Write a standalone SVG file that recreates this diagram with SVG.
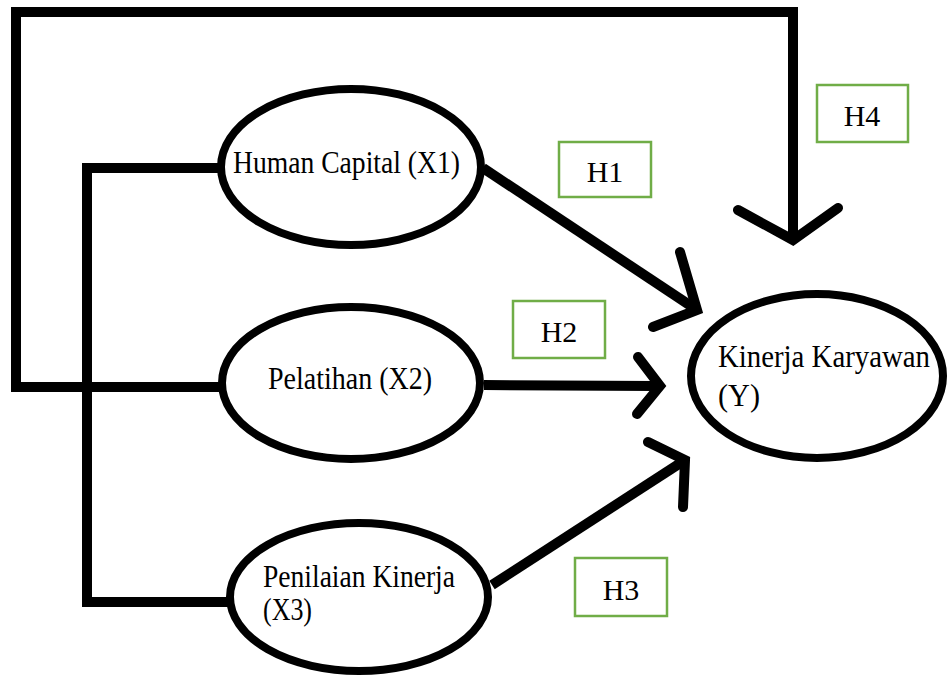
<svg xmlns="http://www.w3.org/2000/svg" width="948" height="680" viewBox="0 0 948 680">
<style>
.node ellipse{fill:#fff;stroke:#000;stroke-width:8}
.lbl{font-family:"Liberation Serif","Times New Roman",serif;font-size:31px;fill:#000}
.conn{fill:none;stroke:#000;stroke-width:10;stroke-linecap:butt;stroke-linejoin:miter}
.head{fill:none;stroke:#000;stroke-width:10;stroke-linecap:round;stroke-linejoin:miter}
.hbox rect{fill:#fff;stroke:#70AD47;stroke-width:2.5}
.hbox text{font-family:"Liberation Serif","Times New Roman",serif;font-size:30px;fill:#000;text-anchor:middle}
</style>
<rect width="948" height="680" fill="#fff"/>
<g id="connectors">
<path class="conn" d="M16,387 V12 H793 V238"/>
<path class="conn" d="M11,387 H220"/>
<path class="conn" d="M87,163 V607"/>
<path class="conn" d="M82,168 H220"/>
<path class="conn" d="M82,602 H228"/>
<path class="head" d="M738,210 L793,240 L838,208"/>
<path class="conn" d="M483,168 L694,308"/>
<path class="head" d="M680,252 L697,310 L653,327"/>
<path class="conn" d="M484,385 L656,386"/>
<path class="head" d="M638,357 L660,386 L637,414"/>
<path class="conn" d="M492,585 L682,462"/>
<path class="head" d="M648,442 L685,460 L683,507"/>
</g>
<g id="x1" class="node">
<ellipse cx="351" cy="167" rx="130" ry="78"/>
<text class="lbl" x="233" y="173" textLength="227" lengthAdjust="spacingAndGlyphs">Human Capital (X1)</text>
</g>
<g id="x2" class="node">
<ellipse cx="351" cy="383" rx="129" ry="76"/>
<text class="lbl" x="268" y="389" textLength="164" lengthAdjust="spacingAndGlyphs">Pelatihan (X2)</text>
</g>
<g id="x3" class="node">
<ellipse cx="359" cy="597" rx="129" ry="74"/>
<text class="lbl" x="263" y="587" textLength="192" lengthAdjust="spacingAndGlyphs">Penilaian Kinerja</text>
<text class="lbl" x="263" y="620" textLength="49" lengthAdjust="spacingAndGlyphs">(X3)</text>
</g>
<g id="y" class="node">
<ellipse cx="817" cy="376" rx="126" ry="82"/>
<text class="lbl" x="718" y="367" textLength="212" lengthAdjust="spacingAndGlyphs">Kinerja Karyawan</text>
<text class="lbl" x="718" y="406" textLength="42" lengthAdjust="spacingAndGlyphs">(Y)</text>
</g>
<g id="h1" class="hbox"><rect x="559" y="142" width="92" height="55"/><text x="605" y="182">H1</text></g>
<g id="h2" class="hbox"><rect x="513" y="301" width="92" height="57"/><text x="559" y="342">H2</text></g>
<g id="h3" class="hbox"><rect x="575" y="558" width="92" height="58"/><text x="621" y="600">H3</text></g>
<g id="h4" class="hbox"><rect x="817" y="85" width="91" height="57"/><text x="862" y="126">H4</text></g>
</svg>
